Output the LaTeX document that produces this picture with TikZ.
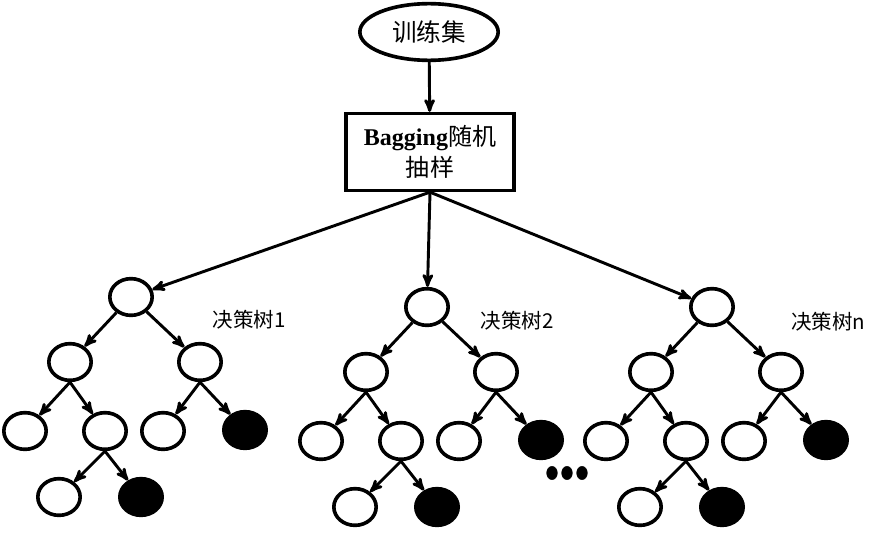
\documentclass[tikz,border=0pt]{standalone}
\usepackage{fontspec}
\setmainfont{Liberation Serif}
\newfontfamily\cjk{Noto Sans CJK SC}
\usetikzlibrary{arrows,calc,shapes.geometric}
\tikzset{
%Define standard arrow tip
>=stealth',
%Define style for different line styles and nodes
important line/.style={line width=3.1pt}, edge line/.style={->, line width=2.5pt},
split node/.style={ellipse, draw, important line, minimum width=1.27cm,
minimum height=1.1cm, inner sep=0pt}, end node/.style={split node, fill=black},
tree label/.style={font=\cjk\fontsize{17.5}{20}\selectfont}, }

\begin{document}
\begin{tikzpicture}[x=0.03cm, y=-0.03cm]
\useasboundingbox (0,0) rectangle (869,532);

\node[ellipse, draw, important line, minimum width=4.15cm, minimum height=1.7cm,
inner sep=0pt, font=\cjk\fontsize{21}{24}\selectfont] (set) at (429,32) {训练集};
\node[draw, important line, minimum width=5.05cm, minimum height=2.3cm,
align=center, font=\fontsize{20.5}{27}\selectfont] (bag) at (430,152)
{{\bfseries Bagging}{\cjk 随机}\\{\cjk 抽样}};
\draw[edge line] (set) -- (bag);

% first tree
\node[split node] (r1) at (131,297) {};
\node[split node] (a1) at (70,362) {}; \node[split node] (b1) at (200,362) {};
\node[split node] (a11) at (25,431) {}; \node[split node] (a12) at (105,431) {};
\node[split node] (b11) at (163,431) {}; \node[end node] (b12) at (245,430) {};
\node[split node] (c11) at (59,497) {}; \node[end node] (c12) at (141,497) {};
\node[tree label] (lab1) at (249,320) {决策树1};
\draw[edge line] (r1) -- (a1); \draw[edge line] (r1) -- (b1);
\draw[edge line] (a1.south) -- (a11); \draw[edge line] (a1.south) -- (a12);
\draw[edge line] (b1.south) -- (b11); \draw[edge line] (b1.south) -- (b12);
\draw[edge line] (a12.south) -- (c11); \draw[edge line] (a12.south) -- (c12);

% second tree
\begin{scope}[shift={(296,10)}]
\node[split node] (r2) at (131,297) {};
\node[split node] (a2) at (70,362) {}; \node[split node] (b2) at (200,362) {};
\node[split node] (a21) at (25,431) {}; \node[split node] (a22) at (105,431) {};
\node[split node] (b21) at (163,431) {}; \node[end node] (b22) at (245,430) {};
\node[split node] (c21) at (59,497) {}; \node[end node] (c22) at (141,497) {};
\node[tree label] (lab2) at (221,311) {决策树2};
\draw[edge line] (r2) -- (a2); \draw[edge line] (r2) -- (b2);
\draw[edge line] (a2.south) -- (a21); \draw[edge line] (a2.south) -- (a22);
\draw[edge line] (b2.south) -- (b21); \draw[edge line] (b2.south) -- (b22);
\draw[edge line] (a22.south) -- (c21); \draw[edge line] (a22.south) -- (c22);
\end{scope}

% last tree
\begin{scope}[shift={(581,10)}]
\node[split node] (r3) at (131,297) {};
\node[split node] (a3) at (70,362) {}; \node[split node] (b3) at (200,362) {};
\node[split node] (a31) at (25,431) {}; \node[split node] (a32) at (105,431) {};
\node[split node] (b31) at (163,431) {}; \node[end node] (b32) at (245,430) {};
\node[split node] (c31) at (59,497) {}; \node[end node] (c32) at (141,497) {};
\node[tree label] (lab3) at (247,312) {决策树n};
\draw[edge line] (r3) -- (a3); \draw[edge line] (r3) -- (b3);
\draw[edge line] (a3.south) -- (a31); \draw[edge line] (a3.south) -- (a32);
\draw[edge line] (b3.south) -- (b31); \draw[edge line] (b3.south) -- (b32);
\draw[edge line] (a32.south) -- (c31); \draw[edge line] (a32.south) -- (c32);
\end{scope}

\draw[edge line] (bag.south) -- (r1);
\draw[edge line] (bag.south) -- (r2);
\draw[edge line] (bag.south) -- (r3);

% dots between the trees
\filldraw [black]
 (552,473) ellipse (0.16cm and 0.2cm)
 (567,473) ellipse (0.16cm and 0.2cm)
 (582,473) ellipse (0.16cm and 0.2cm);
\end{tikzpicture}
\end{document}
